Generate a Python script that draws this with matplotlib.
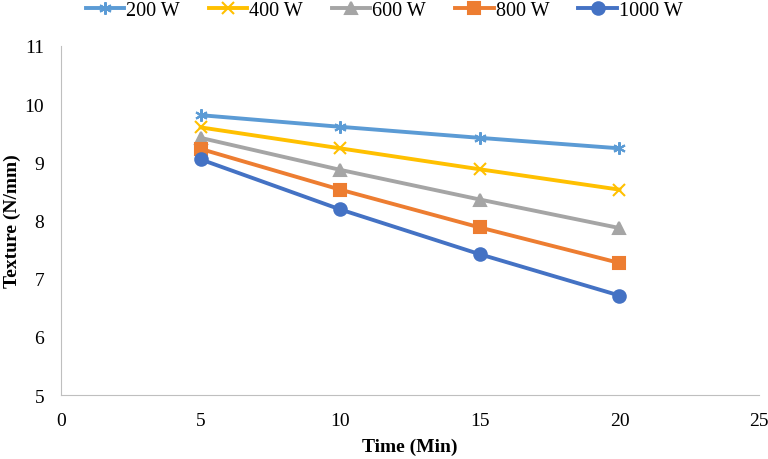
import numpy as np
import matplotlib
matplotlib.use("Agg")
from matplotlib import pyplot as plt

plt.rcParams['font.family'] = ['Liberation Serif', 'DejaVu Serif']

time_min = [5, 10, 15, 20]
w200 = [9.81, 9.61, 9.42, 9.24]
w400 = [9.60, 9.24, 8.88, 8.53]
w600 = [9.42, 8.87, 8.36, 7.87]
w800 = [9.23, 8.53, 7.88, 7.27]
w1000 = [9.05, 8.19, 7.42, 6.71]

labels = ["200 W", "400 W", "600 W", "800 W", "1000 W"]
series = [w200, w400, w600, w800, w1000]
colors = ["#5B9BD5", "#FFC000", "#A5A5A5", "#ED7D31", "#4472C4"]
markers = [(6, 2, 0), "x", "^", "s", "o"]
msizes = [9, 8, 8, 8, 9]

fig = plt.figure(figsize=(7.68, 4.6), dpi=100)
ax = fig.add_axes([0.0794, 0.139, 0.909, 0.759])

for y, lab, c, m, ms in zip(series, labels, colors, markers, msizes):
    ax.plot(time_min, y, c=c, lw=2.8, marker=m, ms=ms, mew=1.5,
            mec=c, mfc=c, label=lab)

ax.set_xlim([0, 25])
ax.set_ylim([5, 11])
ax.set_xticks(np.arange(0, 26, 5))
ax.set_yticks(np.arange(5, 12, 1))
ax.tick_params(length=0, labelsize=14)
ax.tick_params(axis='x', pad=12)
ax.tick_params(axis='y', pad=12)

ax.spines['top'].set_visible(False)
ax.spines['right'].set_visible(False)
ax.spines['left'].set_color('#BFBFBF')
ax.spines['bottom'].set_color('#BFBFBF')

ax.set_xlabel("Time (Min)", fontsize=14, fontweight='bold')
ax.set_ylabel("Texture (N/mm)", fontsize=14, fontweight='bold')
ax.xaxis.set_label_coords(0.5, -0.148)
ax.yaxis.set_label_coords(-0.070, 0.5)
ax.yaxis.label.set_va('center')
ax.xaxis.label.set_va('center')

fig.legend(loc='upper center', bbox_to_anchor=(0.5, 1.035), ncol=5,
           frameon=False, fontsize=14.5, handlelength=1.9, handletextpad=0.1,
           columnspacing=1.45)

plt.savefig("out.png", dpi=100)
plt.close()
